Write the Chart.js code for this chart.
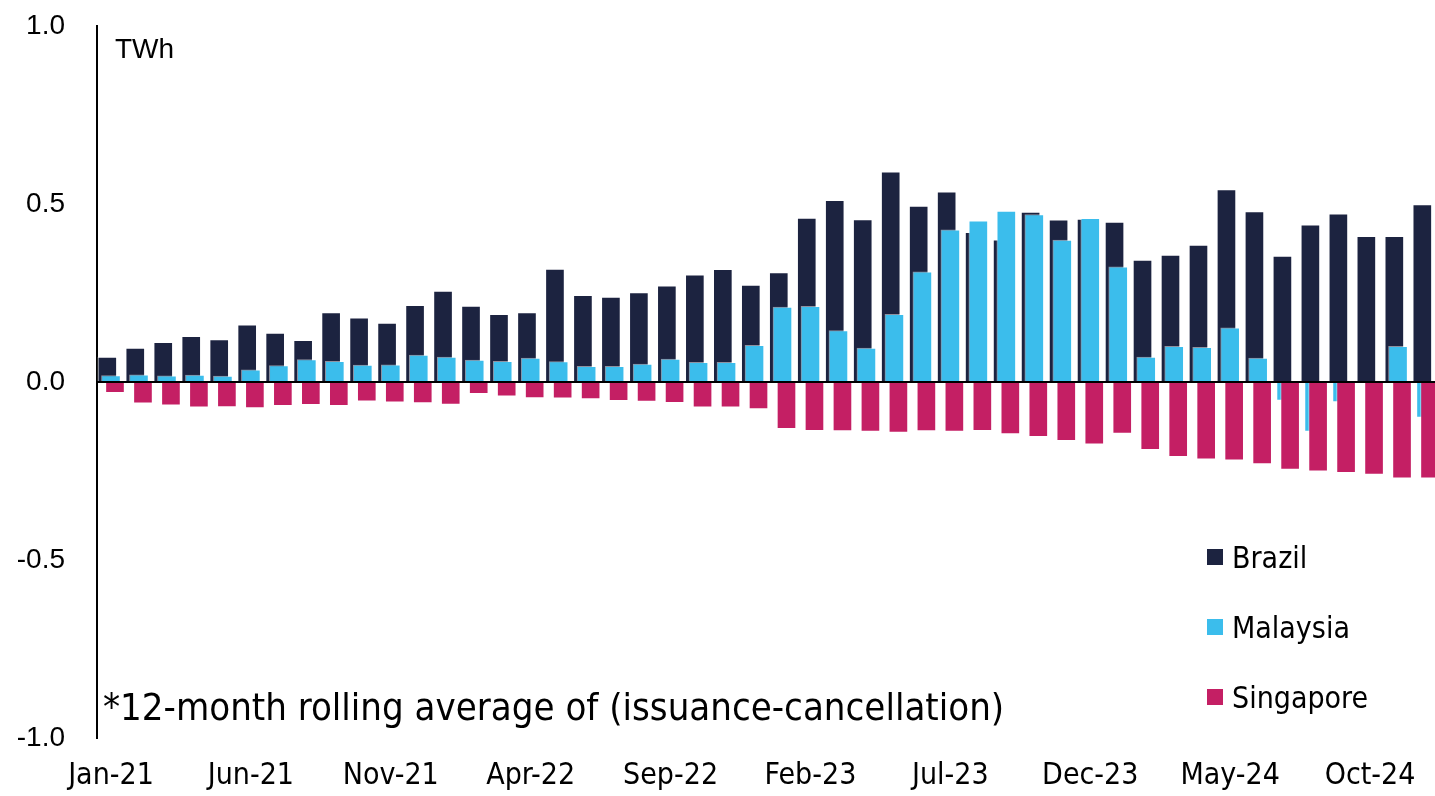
<!DOCTYPE html>
<html>
<head>
<meta charset="utf-8">
<script src="https://cdn.jsdelivr.net/npm/chart.js@4.4.1/dist/chart.umd.min.js"></script>
<style>
  html, body { margin: 0; padding: 0; background: #fff; overflow: hidden; }
  #wrap { position: relative; width: 1435px; height: 796px; overflow: hidden; }
  #grafica { position: absolute; left: 0; top: -23px; }
  .nota { position: absolute; font-family: "DejaVu Sans Condensed", "DejaVu Sans", sans-serif; color: #000; white-space: nowrap; line-height: 44px; }
  #unidad { position: absolute; left: 115px; top: 33px; font-family: "Liberation Sans", Arial, sans-serif; font-size: 28px; color: #000; }
  #leyenda { position: absolute; left: 1207px; top: 522px; }
  .item { height: 70px; display: flex; align-items: center; font-family: "DejaVu Sans Condensed", "DejaVu Sans", sans-serif; font-size: 30px; }
  .caja { width: 16px; height: 16px; margin-right: 9px; }
</style>
</head>
<body>
<div id="wrap">
  <canvas id="grafica" width="1440" height="819"></canvas>
  <div id="unidad">TWh</div>
  <div class="nota" style="left:103px; top:685px; font-size:38px;">*12-month rolling average of (issuance-cancellation)</div>
  <div id="leyenda"></div>
</div>
<script>
const meses = ['Jan-21','Feb-21','Mar-21','Apr-21','May-21','Jun-21','Jul-21','Aug-21','Sep-21','Oct-21','Nov-21','Dec-21',
  'Jan-22','Feb-22','Mar-22','Apr-22','May-22','Jun-22','Jul-22','Aug-22','Sep-22','Oct-22','Nov-22','Dec-22',
  'Jan-23','Feb-23','Mar-23','Apr-23','May-23','Jun-23','Jul-23','Aug-23','Sep-23','Oct-23','Nov-23','Dec-23',
  'Jan-24','Feb-24','Mar-24','Apr-24','May-24','Jun-24','Jul-24','Aug-24','Sep-24','Oct-24','Nov-24','Dec-24'];

const brazil = [0.07, 0.095, 0.111, 0.128, 0.119, 0.16, 0.137, 0.117, 0.195, 0.18, 0.165, 0.215,
  0.255, 0.213, 0.19, 0.195, 0.317, 0.243, 0.238, 0.251, 0.27, 0.301, 0.316, 0.272,
  0.307, 0.46, 0.51, 0.456, 0.59, 0.494, 0.534, 0.42, 0.399, 0.477, 0.455, 0.457,
  0.449, 0.342, 0.356, 0.384, 0.54, 0.478, 0.353, 0.441, 0.472, 0.409, 0.409, 0.498];

const malaysia = [0.018, 0.02, 0.017, 0.019, 0.016, 0.034, 0.046, 0.063, 0.058, 0.047, 0.048, 0.075,
  0.07, 0.061, 0.058, 0.067, 0.057, 0.044, 0.044, 0.05, 0.064, 0.055, 0.055, 0.103,
  0.21, 0.212, 0.144, 0.095, 0.19, 0.309, 0.427, 0.452, 0.48, 0.47, 0.398, 0.459,
  0.323, 0.07, 0.1, 0.097, 0.152, 0.067, -0.052, -0.139, -0.056, 0, 0.1, -0.1];

const singapore = [-0.03, -0.06, -0.065, -0.071, -0.07, -0.073, -0.067, -0.064, -0.067, -0.054, -0.057, -0.059,
  -0.063, -0.033, -0.04, -0.045, -0.046, -0.048, -0.053, -0.055, -0.058, -0.071, -0.071, -0.076,
  -0.131, -0.137, -0.138, -0.139, -0.142, -0.138, -0.139, -0.137, -0.146, -0.154, -0.165, -0.175,
  -0.145, -0.19, -0.21, -0.217, -0.22, -0.23, -0.246, -0.251, -0.255, -0.26, -0.27, -0.27];

const series = ['Brazil', 'Malaysia', 'Singapore'];
const colores = ['#1c2340', '#3bbdec', '#c41f64'];
// desplazamiento horizontal de cada serie (barras superpuestas)
const desplazamiento = [-3.7, 0, 4];

const desplazarBarras = {
    id: 'desplazarBarras',
    afterDatasetsUpdate(chart) {
        chart.data.datasets.forEach((ds, i) => {
            chart.getDatasetMeta(i).data.forEach(bar => { bar.x += desplazamiento[i]; });
        });
    }
};

const datos = [brazil, malaysia, singapore];

const grafica = new Chart(document.getElementById('grafica').getContext('2d'), {
    type: 'bar',
    data: {
        labels: meses,
        datasets: series.map((nombre, i) => ({
            label: nombre,
            data: datos[i],
            backgroundColor: colores[i],
            borderColor: 'rgba(255,255,255,0.5)',
            borderWidth: 1,
            barThickness: 19,
            grouped: false,
            order: 3 - i
        }))
    },
    options: {
        responsive: false,
        animation: false,
        layout: { padding: { top: 0, right: 0, left: 0, bottom: 0 } },
        plugins: {
            legend: { display: false },
            tooltip: { enabled: false }
        },
        scales: {
            x: {
                grid: { display: false },
                border: { display: false },
                afterFit: s => { s.height = 58; },
                ticks: {
                    autoSkip: false,
                    maxRotation: 0,
                    padding: 12,
                    color: '#000',
                    font: { family: '"DejaVu Sans Condensed", "DejaVu Sans", sans-serif', size: 30 },
                    callback: (v, idx) => idx % 5 === 0 ? meses[idx] : ''
                }
            },
            y: {
                min: -1,
                max: 1,
                afterFit: s => { s.width = 97; },
                border: { display: true, color: '#000', width: 2 },
                grid: {
                    drawTicks: false,
                    color: c => c.tick && c.tick.value === 0 ? '#000' : 'rgba(0,0,0,0)',
                    lineWidth: 2
                },
                ticks: {
                    stepSize: 0.5,
                    padding: 32,
                    color: '#000',
                    font: { family: '"Liberation Sans", Arial, sans-serif', size: 28 },
                    callback: v => v.toFixed(1)
                }
            }
        }
    },
    plugins: [desplazarBarras]
});

const leyenda = document.getElementById('leyenda');
series.forEach((nombre, i) => {
    const item = document.createElement('div');
    item.className = 'item';
    item.innerHTML = '<div class="caja" style="background:' + colores[i] + '"></div><span>' + nombre + '</span>';
    leyenda.appendChild(item);
});
</script>
</body>
</html>
